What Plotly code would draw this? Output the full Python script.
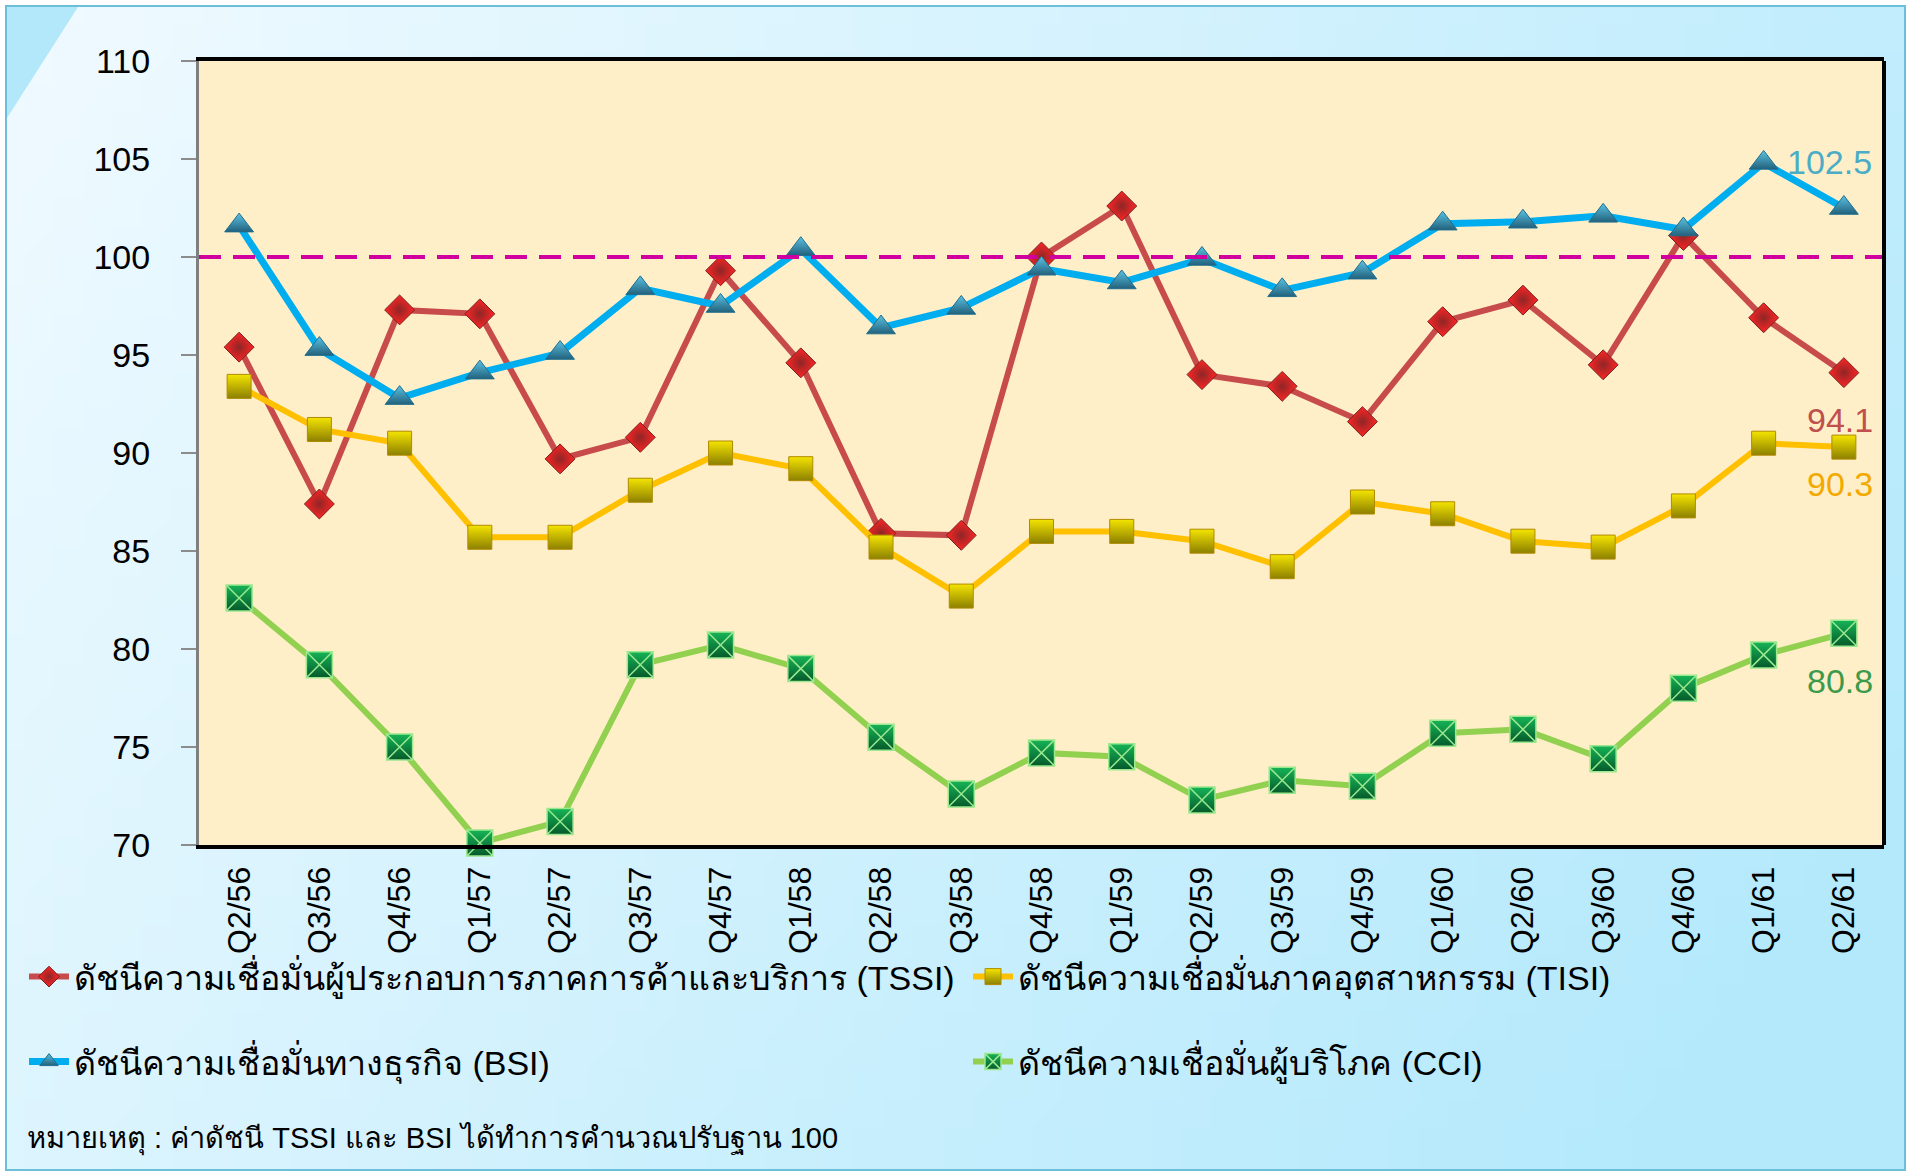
import base64
import struct
import zlib

import plotly.graph_objects as go

# Quarter labels (Thai Buddhist-era years)
quarters = ["Q2/56", "Q3/56", "Q4/56", "Q1/57", "Q2/57", "Q3/57", "Q4/57",
            "Q1/58", "Q2/58", "Q3/58", "Q4/58", "Q1/59", "Q2/59", "Q3/59",
            "Q4/59", "Q1/60", "Q2/60", "Q3/60", "Q4/60", "Q1/61", "Q2/61"]

tssi = [95.4, 87.4, 97.3, 97.1, 89.7, 90.8, 99.3, 94.6, 85.9, 85.8, 100.0,
        102.6, 94.0, 93.4, 91.6, 96.7, 97.8, 94.5, 101.1, 96.9, 94.1]
tisi = [93.4, 91.2, 90.5, 85.7, 85.7, 88.1, 90.0, 89.2, 85.2, 82.7, 86.0,
        86.0, 85.5, 84.2, 87.5, 86.9, 85.5, 85.2, 87.3, 90.5, 90.3]
bsi = [101.6, 95.3, 92.8, 94.1, 95.1, 98.4, 97.5, 100.4, 96.4, 97.4, 99.4,
       98.7, 99.9, 98.3, 99.2, 101.7, 101.8, 102.1, 101.4, 104.8, 102.5]
cci = [82.6, 79.2, 75.0, 70.1, 71.2, 79.2, 80.2, 79.0, 75.5, 72.6, 74.7,
       74.5, 72.3, 73.3, 73.0, 75.7, 75.9, 74.4, 78.0, 79.7, 80.8]

y_ticks = [70, 75, 80, 85, 90, 95, 100, 105, 110]
base_line = 100

names = {
    "tssi": "ดัชนีความเชื่อมั่นผู้ประกอบการภาคการค้าและบริการ (TSSI)",
    "tisi": "ดัชนีความเชื่อมั่นภาคอุตสาหกรรม (TISI)",
    "bsi": "ดัชนีความเชื่อมั่นทางธุรกิจ (BSI)",
    "cci": "ดัชนีความเชื่อมั่นผู้บริโภค (CCI)",
}
note = "หมายเหตุ : ค่าดัชนี TSSI และ BSI ได้ทำการคำนวณปรับฐาน 100"

# ---- page geometry (pixels) ----
FIG_W, FIG_H = 1908, 1174
M_L, M_R, M_T, M_B = 199, 24, 61, 329
PLOT_W = FIG_W - M_L - M_R
PLOT_H = FIG_H - M_T - M_B


def px_x(px):
    return (px - M_L) / PLOT_W


def px_y(py):
    return (FIG_H - M_B - py) / PLOT_H


def gradient_png(w, h, c0, c1):
    """Small diagonal gradient bitmap used as the panel background."""
    raw = bytearray()
    for j in range(h):
        raw.append(0)
        for i in range(w):
            t = min(1.0, 0.78 * i / (w - 1) + 0.32 * j / (h - 1))
            raw += bytes(int(round(a + (b - a) * t)) for a, b in zip(c0, c1))

    def chunk(tag, data):
        return (struct.pack(">I", len(data)) + tag + data
                + struct.pack(">I", zlib.crc32(tag + data) & 0xFFFFFFFF))

    png = (b"\x89PNG\r\n\x1a\n"
           + chunk(b"IHDR", struct.pack(">IIBBBBB", w, h, 8, 2, 0, 0, 0))
           + chunk(b"IDAT", zlib.compress(bytes(raw)))
           + chunk(b"IEND", b""))
    return "data:image/png;base64," + base64.b64encode(png).decode()


FONT = "Liberation Sans, Arial, sans-serif"
COL_W = 889  # width reserved for the left legend column's text

fig = go.Figure()

fig.add_trace(go.Scatter(
    x=quarters, y=tssi, name=names["tssi"], mode="lines+markers",
    line=dict(color="#C84B4B", width=6),
    marker=dict(symbol="diamond", size=23, color="#FF2424",
                gradient=dict(type="radial", color="#8E2626"),
                line=dict(color="#7A2020", width=1)),
    cliponaxis=False, legend="legend", legendwidth=COL_W,
))
fig.add_trace(go.Scatter(
    x=quarters, y=tisi, name=names["tisi"], mode="lines+markers",
    line=dict(color="#FFC000", width=6),
    marker=dict(symbol="square", size=24, color="#F4E400",
                gradient=dict(type="vertical", color="#8C8000"),
                line=dict(color="#B08A00", width=1)),
    cliponaxis=False, legend="legend",
))
fig.add_trace(go.Scatter(
    x=quarters, y=bsi, name=names["bsi"], mode="lines+markers",
    line=dict(color="#00AEEF", width=7),
    marker=dict(symbol="triangle-up", size=25, color="#5BC3E4",
                gradient=dict(type="vertical", color="#22617C"),
                line=dict(color="#1F6E8E", width=1)),
    cliponaxis=False, legend="legend2", legendwidth=COL_W,
))
fig.add_trace(go.Scatter(
    x=quarters, y=cci, name=names["cci"], mode="lines+markers",
    line=dict(color="#92D050", width=6),
    marker=dict(symbol="square-x", size=26, color="#16B457",
                gradient=dict(type="vertical", color="#05592A"),
                line=dict(color="#9BE88F", width=1.5)),
    cliponaxis=False, legend="legend2",
))

# latest-quarter value labels
last = len(quarters) - 1
labels = [
    (bsi[last], "#4BACC6", -14, 46),
    (tssi[last], "#C0504D", -4, -47),
    (tisi[last], "#F2A900", -4, -37),
    (cci[last], "#3B9A4B", -4, -48),
]
for val, col, dx, dy in labels:
    fig.add_annotation(x=quarters[last], y=val, text=f"{val:.1f}",
                       showarrow=False, xshift=dx, yshift=dy,
                       font=dict(family=FONT, size=34, color=col))

fig.add_annotation(text=note, xref="paper", yref="paper",
                   x=px_x(25), y=px_y(1138), xanchor="left", yanchor="middle",
                   showarrow=False,
                   font=dict(family=FONT, size=29, color="#000000"))

shapes = [
    # cream plotting panel
    dict(type="rect", xref="paper", yref="paper", x0=0, x1=1, y0=0, y1=1,
         fillcolor="#FFEFC9", line=dict(width=0), layer="below"),
    # light corner wedge
    dict(type="path", xref="paper", yref="paper", layer="below",
         path=(f"M{px_x(7)},{px_y(7)} L{px_x(78)},{px_y(7)} "
               f"L{px_x(7)},{px_y(118)} Z"),
         fillcolor="#B3E7FA", line=dict(width=0)),
    # outer frame
    dict(type="rect", xref="paper", yref="paper", layer="below",
         x0=px_x(6), x1=px_x(1905), y0=px_y(6), y1=px_y(1170),
         line=dict(color="#6CBFD8", width=2)),
    # base-100 reference line
    dict(type="line", xref="paper", yref="y", x0=0, x1=1,
         y0=base_line, y1=base_line,
         line=dict(color="#D0009E", width=4, dash="22px,12px")),
    # right border of the panel
    dict(type="line", xref="paper", yref="paper", x0=1, x1=1, y0=0, y1=1,
         line=dict(color="#000000", width=4)),
]

legend_common = dict(
    orientation="h", xref="container", yref="container",
    xanchor="left", yanchor="middle", itemwidth=40,
    bgcolor="rgba(0,0,0,0)", borderwidth=0,
    font=dict(family=FONT, size=34, color="#000000"),
)

fig.update_layout(
    width=FIG_W, height=FIG_H,
    margin=dict(l=M_L, r=M_R, t=M_T, b=M_B, pad=0, autoexpand=False),
    paper_bgcolor="#FFFFFF", plot_bgcolor="#FFEFC9",
    showlegend=True,
    legend=dict(**legend_common, x=24 / FIG_W, y=1 - 977 / FIG_H),
    legend2=dict(**legend_common, x=24 / FIG_W, y=1 - 1062 / FIG_H),
    shapes=shapes,
    images=[dict(
        source=gradient_png(64, 40, (240, 250, 255), (180, 233, 252)),
        xref="paper", yref="paper", x=px_x(7), y=px_y(7),
        sizex=px_x(1905) - px_x(7), sizey=px_y(7) - px_y(1170),
        xanchor="left", yanchor="top", sizing="stretch", layer="below",
    )],
    xaxis=dict(
        type="category", range=[-0.5, len(quarters) - 0.5],
        showgrid=False, zeroline=False, automargin=False,
        showline=True, linecolor="#000000", linewidth=4, mirror=True,
        ticks="", tickangle=-90, ticklabelstandoff=5,
        tickfont=dict(family=FONT, size=32, color="#000000"),
    ),
    yaxis=dict(
        range=[70, 110], tickvals=y_ticks, showgrid=False, zeroline=False,
        automargin=False,
        showline=True, linecolor="#7F7F7F", linewidth=3,
        ticks="outside", ticklen=15, tickwidth=2, tickcolor="#8C8C8C",
        ticklabelstandoff=24,
        tickfont=dict(family=FONT, size=34, color="#000000"),
    ),
)

fig.write_html("out.html")
